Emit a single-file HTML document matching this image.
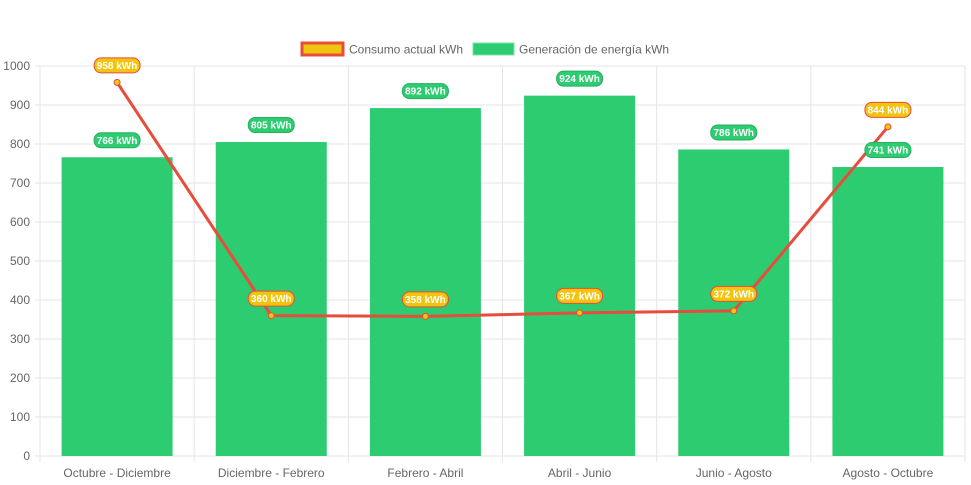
<!DOCTYPE html>
<html><head><meta charset="utf-8"><style>
body{margin:0;background:#fff;font-family:"Liberation Sans",sans-serif}
svg{display:block}
</style></head><body>
<svg id="c" width="971" height="485">
<g font-size="12" fill="#666">
<rect x="302" y="43" width="41" height="12" fill="#f1c40f" stroke="#e74c3c" stroke-width="3"/>
<text x="349" y="53.5">Consumo actual kWh</text>
<rect x="473" y="43" width="41" height="12" fill="#2ecc71" stroke="#7ee0a6" stroke-width="1"/>
<text x="519" y="53.5">Generación de energía kWh</text>
</g>
</svg>
<script>
const categories=["Octubre - Diciembre","Diciembre - Febrero","Febrero - Abril","Abril - Junio","Junio - Agosto","Agosto - Octubre"];
const generacion=[766,805,892,924,786,741];
const consumo=[958,360,358,367,372,844];
const yTicks=[0,100,200,300,400,500,600,700,800,900,1000];
const svg=document.getElementById('c');const NS='http://www.w3.org/2000/svg';
const L=40,R=965,T=66,B=456,yMax=1000;
const bw=(R-L)/categories.length;
const y=v=>B-(v/yMax)*(B-T);
const xc=i=>L+bw*(i+0.5);
function mk(t,a,p){const e=document.createElementNS(NS,t);for(const k in a)e.setAttribute(k,a[k]);(p||svg).appendChild(e);return e;}
const grid=mk('g',{});


yTicks.forEach(v=>{
 const l=mk('line',{x1:L-5,x2:R,y1:y(v),y2:y(v),stroke:'#e5e5e5','stroke-width':1},grid);
 
 
 const t=mk('text',{x:L-10,y:y(v)+4,'text-anchor':'end','font-size':12,fill:'#666'},svg);
 t.textContent=v;
 
 
});
for(let i=0;i<=categories.length;i++){
 const l=mk('line',{x1:L+bw*i,x2:L+bw*i,y1:T,y2:B+6,stroke:'#e5e5e5','stroke-width':1},grid);
 
 
}
const bars=mk('g',{});


generacion.forEach((v,i)=>{
 const w=bw*0.72;
 const r=mk('rect',{x:xc(i)-w/2,y:y(v),width:w,height:B-y(v),fill:'#2ecc71'},bars);
 
 
 const t=mk('text',{x:xc(i),y:B+21,'text-anchor':'middle','font-size':12,fill:'#666'});
 t.textContent=categories[i];
 
 
});
const pts=consumo.map((v,i)=>xc(i)+','+y(v)).join(' ');
const pl=mk('polyline',{points:pts,fill:'none',stroke:'#e74c3c','stroke-width':3,'stroke-linejoin':'round'});


consumo.forEach((v,i)=>{
 const c=mk('circle',{cx:xc(i),cy:y(v),r:3,fill:'#f1c40f',stroke:'#e74c3c','stroke-width':1});
 
 
});
function pill(cx,cy,txt,fill,stroke,name){
 const g=mk('g',{});
 
 
 mk('rect',{x:cx-23,y:cy-7.5,width:46,height:15,rx:7,fill:fill,stroke:stroke,'stroke-width':1},g);
 const t=mk('text',{x:cx,y:cy+3.5,'text-anchor':'middle','font-size':10,'font-weight':'bold',fill:'#fff'},g);
 t.textContent=txt;
}
generacion.forEach((v,i)=>pill(xc(i),y(v)-17,v+' kWh','#2ecc71','#27ae60','label-generacion'));
consumo.forEach((v,i)=>pill(xc(i),y(v)-17,v+' kWh','#f1c40f','#e74c3c','label-consumo'));
</script>
</body></html>
